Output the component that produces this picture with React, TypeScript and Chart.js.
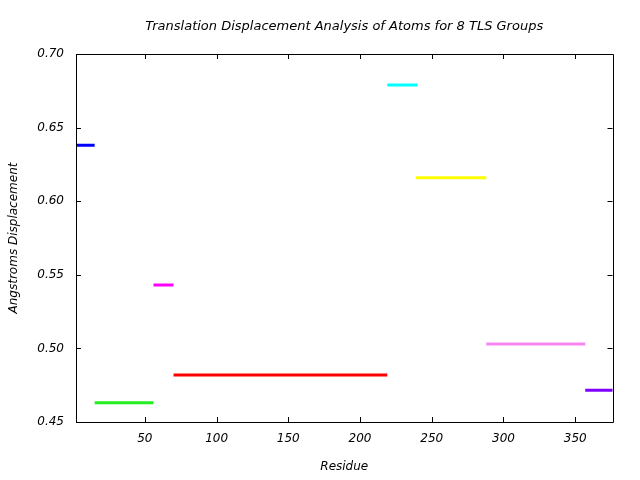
import React, { useEffect, useRef } from "react";
import { Chart, registerables } from "chart.js";

Chart.register(...registerables);

const groupStart = [2, 15, 56, 70, 219, 239, 288, 357];
const groupEnd = [15, 56, 70, 219, 240, 288, 357, 376];
const groupValues = [0.638, 0.463, 0.543, 0.482, 0.679, 0.616, 0.503, 0.4715];
const groupColors = ["#0000ff", "#22ee22", "#ff00ff", "#ff0000", "#00ffff", "#ffff00", "#f884f0", "#8000ff"];

const xTickValues = [50, 100, 150, 200, 250, 300, 350];
const yTickValues = [0.45, 0.5, 0.55, 0.6, 0.65, 0.7];

const titleText = "Translation Displacement Analysis of Atoms for 8 TLS Groups";
const xTitle = "Residue";
const yTitle = "Angstroms Displacement";

const FONT = "'DejaVu Sans', sans-serif";

const framePlugin = {
  id: "frame",
  afterDraw(chart: any) {
    const { ctx, chartArea, scales } = chart;
    const { left, right, top, bottom } = chartArea;
    ctx.save();
    ctx.strokeStyle = "#000";
    ctx.lineWidth = 1;
    ctx.beginPath();
    ctx.rect(Math.round(left) + 0.5, Math.round(top) + 0.5, Math.round(right - left), Math.round(bottom - top));
    const tl = 5;
    xTickValues.forEach((v) => {
      const px = Math.round(scales.x.getPixelForValue(v)) + 0.5;
      ctx.moveTo(px, bottom);
      ctx.lineTo(px, bottom - tl);
      ctx.moveTo(px, top);
      ctx.lineTo(px, top + tl);
    });
    yTickValues.forEach((v) => {
      const py = Math.round(scales.y.getPixelForValue(v)) + 0.5;
      ctx.moveTo(left, py);
      ctx.lineTo(left + tl, py);
      ctx.moveTo(right, py);
      ctx.lineTo(right - tl, py);
    });
    ctx.stroke();
    ctx.restore();
  },
};

export default function App() {
  const ref = useRef<HTMLCanvasElement>(null);
  useEffect(() => {
    document.body.style.margin = "0";
    const datasets = groupValues.map((v, i) => ({
      data: [
        { x: groupStart[i], y: v },
        { x: groupEnd[i], y: v },
      ],
      borderColor: groupColors[i],
      backgroundColor: groupColors[i],
      borderWidth: 3,
      borderCapStyle: "butt" as const,
      pointRadius: 0,
      showLine: true,
      clip: 2,
    }));
    const tickFont = { family: FONT, size: 12, style: "italic" as const };
    const chart = new Chart(ref.current!, {
      type: "scatter",
      data: { datasets },
      plugins: [framePlugin],
      options: {
        animation: false,
        responsive: false,
        layout: { padding: { left: 0, right: 27.5, top: 0, bottom: 0 } },
        plugins: {
          legend: { display: false },
          tooltip: { enabled: false },
          title: {
            display: true,
            fullSize: false,
            text: titleText,
            color: "#000",
            font: { family: FONT, size: 13, style: "italic", weight: "normal", lineHeight: 1.2 },
            padding: { top: 19, bottom: 19.4 },
          },
        },
        scales: {
          x: {
            type: "linear",
            min: 2,
            max: 376,
            grid: { display: false, drawTicks: false },
            border: { display: false },
            afterBuildTicks: (s: any) => {
              s.ticks = xTickValues.map((v) => ({ value: v }));
            },
            afterFit: (s: any) => {
              s.height = 58;
            },
            ticks: {
              autoSkip: false,
              maxRotation: 0,
              color: "#000",
              font: tickFont,
              padding: 10,
              callback: (v: any) => String(v),
            },
            title: {
              display: true,
              text: xTitle,
              color: "#000",
              font: tickFont,
              padding: { top: 0, bottom: 6 },
            },
          },
          y: {
            type: "linear",
            min: 0.45,
            max: 0.7,
            grid: { display: false, drawTicks: false },
            border: { display: false },
            afterBuildTicks: (s: any) => {
              s.ticks = yTickValues.map((v) => ({ value: v }));
            },
            afterFit: (s: any) => {
              s.width = 76;
            },
            ticks: {
              autoSkip: false,
              color: "#000",
              font: tickFont,
              padding: 12,
              callback: (v: any) => Number(v).toFixed(2),
            },
            title: {
              display: true,
              text: yTitle,
              color: "#000",
              font: tickFont,
              padding: { top: 7, bottom: 0 },
            },
          },
        },
      },
    });
    return () => chart.destroy();
  }, []);
  return (
    <div style={{ position: "absolute", left: 0, top: 0, width: 640, height: 480, background: "#fff" }}>
      <canvas ref={ref} width={640} height={480} style={{ display: "block" }} />
    </div>
  );
}
